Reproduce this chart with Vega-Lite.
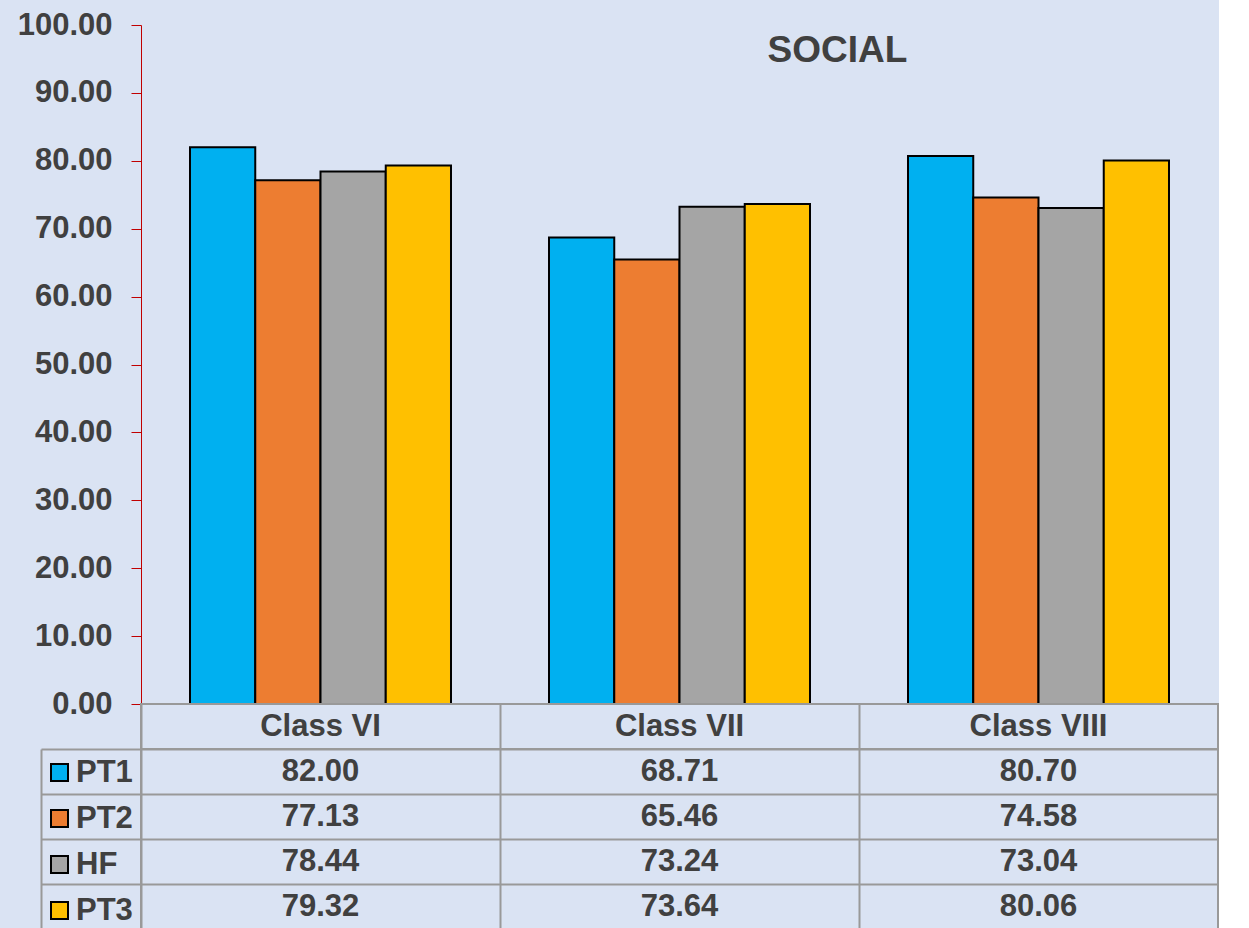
{
  "$schema": "https://vega.github.io/schema/vega-lite/v6.json",
  "background": "#DAE3F3",
  "padding": {"left": 17, "top": 9, "right": 0, "bottom": 0},
  "bounds": "flush",
  "spacing": 0,
  "data": {
    "values": [
      {"class": "Class VI", "series": "PT1", "value": 82.00},
      {"class": "Class VI", "series": "PT2", "value": 77.13},
      {"class": "Class VI", "series": "HF", "value": 78.44},
      {"class": "Class VI", "series": "PT3", "value": 79.32},
      {"class": "Class VII", "series": "PT1", "value": 68.71},
      {"class": "Class VII", "series": "PT2", "value": 65.46},
      {"class": "Class VII", "series": "HF", "value": 73.24},
      {"class": "Class VII", "series": "PT3", "value": 73.64},
      {"class": "Class VIII", "series": "PT1", "value": 80.70},
      {"class": "Class VIII", "series": "PT2", "value": 74.58},
      {"class": "Class VIII", "series": "HF", "value": 73.04},
      {"class": "Class VIII", "series": "PT3", "value": 80.06}
    ]
  },
  "config": {
    "view": {"stroke": null},
    "font": "Liberation Sans",
    "text": {"font": "Liberation Sans", "fontWeight": "bold", "fontSize": 31, "color": "#404040"}
  },
  "resolve": {"scale": {"x": "independent", "y": "independent"}},
  "vconcat": [
    {
      "width": 1077,
      "height": 679,
      "title": {
        "text": "SOCIAL",
        "frame": "group",
        "anchor": "middle",
        "orient": "top",
        "offset": 0,
        "baseline": "bottom",
        "dx": 158,
        "dy": 98,
        "font": "Liberation Sans",
        "fontSize": 37,
        "fontWeight": "bold",
        "color": "#404040"
      },
      "mark": {"type": "bar", "stroke": "black", "strokeWidth": 2},
      "encoding": {
        "x": {
          "field": "class",
          "type": "nominal",
          "sort": ["Class VI", "Class VII", "Class VIII"],
          "scale": {"paddingInner": 0.273, "paddingOuter": 0.1365},
          "axis": null
        },
        "xOffset": {"field": "series", "type": "nominal", "sort": ["PT1", "PT2", "HF", "PT3"]},
        "y": {
          "field": "value",
          "type": "quantitative",
          "scale": {"domain": [0, 100], "nice": false},
          "axis": {
            "title": null,
            "values": [0, 10, 20, 30, 40, 50, 60, 70, 80, 90, 100],
            "format": ".2f",
            "grid": false,
            "labelFont": "Liberation Sans",
            "labelFontSize": 31,
            "labelFontWeight": "bold",
            "labelColor": "#404040",
            "labelPadding": 19,
            "tickSize": 10,
            "tickColor": "#C00000",
            "tickWidth": 1,
            "domainColor": "#C00000",
            "domainWidth": 1
          }
        },
        "color": {
          "field": "series",
          "type": "nominal",
          "scale": {
            "domain": ["PT1", "PT2", "HF", "PT3"],
            "range": ["#00B0F0", "#ED7D31", "#A5A5A5", "#FFC000"]
          },
          "legend": {
            "orient": "none",
            "legendX": -97,
            "legendY": 732,
            "title": null,
            "symbolType": "square",
            "symbolSize": 289,
            "symbolStrokeColor": "black",
            "symbolStrokeWidth": 2,
            "symbolOpacity": 1,
            "labelFont": "Liberation Sans",
            "labelFontSize": 31,
            "labelFontWeight": "bold",
            "labelColor": "#404040",
            "labelOffset": 1,
            "rowPadding": 14
          }
        }
      }
    },
    {
      "width": 1077,
      "height": 45,
      "view": {"stroke": "#999999", "strokeWidth": 2},
      "transform": [{"aggregate": [{"op": "count", "as": "n"}], "groupby": ["class"]}],
      "mark": {"type": "text", "baseline": "middle", "align": "center"},
      "encoding": {
        "x": {
          "field": "class",
          "type": "nominal",
          "sort": ["Class VI", "Class VII", "Class VIII"],
          "scale": {"paddingInner": 0, "paddingOuter": 0},
          "axis": {
            "title": null,
            "labels": false,
            "ticks": false,
            "domain": false,
            "grid": true,
            "tickBand": "extent",
            "gridColor": "#999999",
            "gridWidth": 2,
            "gridOpacity": 1
          }
        },
        "text": {"field": "class", "type": "nominal"}
      }
    },
    {
      "width": 1077,
      "height": 180,
      "view": {"stroke": "#999999", "strokeWidth": 2},
      "mark": {"type": "text", "baseline": "middle", "align": "center"},
      "encoding": {
        "x": {
          "field": "class",
          "type": "nominal",
          "sort": ["Class VI", "Class VII", "Class VIII"],
          "scale": {"paddingInner": 0, "paddingOuter": 0},
          "axis": {
            "title": null,
            "labels": false,
            "ticks": false,
            "domain": false,
            "grid": true,
            "tickBand": "extent",
            "gridColor": "#999999",
            "gridWidth": 2,
            "gridOpacity": 1
          }
        },
        "y": {
          "field": "series",
          "type": "nominal",
          "sort": ["PT1", "PT2", "HF", "PT3"],
          "scale": {"paddingInner": 0, "paddingOuter": 0},
          "axis": {
            "title": null,
            "orient": "left",
            "offset": 100,
            "labels": false,
            "tickBand": "extent",
            "tickSize": -100,
            "tickColor": "#999999",
            "tickWidth": 2,
            "domainColor": "#999999",
            "domainWidth": 2,
            "grid": true,
            "gridColor": "#999999",
            "gridWidth": 2,
            "gridOpacity": 1
          }
        },
        "text": {"field": "value", "type": "quantitative", "format": ".2f"}
      }
    }
  ]
}
